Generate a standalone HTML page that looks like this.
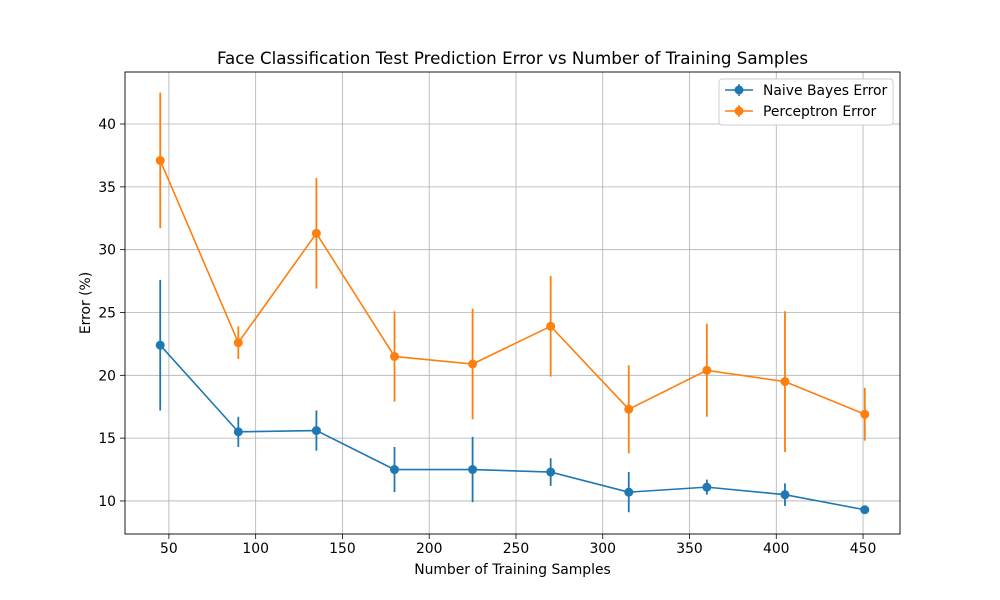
<!DOCTYPE html>
<html><head><meta charset="utf-8"><style>
body{margin:0;background:#fff;}
svg{display:block;font-family:"DejaVu Sans","Liberation Sans",sans-serif;}
</style></head><body>
<svg id="chart" width="1000" height="600"></svg>
<script>
const xs=[45,90,135,180,225,270,315,360,405,451];
const nbErr=[22.4,15.5,15.6,12.5,12.5,12.3,10.7,11.1,10.5,9.3];
const nbStd=[5.2,1.2,1.6,1.8,2.6,1.1,1.6,0.6,0.9,0.0];
const pcErr=[37.1,22.6,31.3,21.5,20.9,23.9,17.3,20.4,19.5,16.9];
const pcStd=[5.4,1.3,4.4,3.6,4.4,4.0,3.5,3.7,5.6,2.1];
const xTicks=[50,100,150,200,250,300,350,400,450];
const yTicks=[10,15,20,25,30,35,40];
const L=125,R=900,T=72,B=534;
const xMin=24.7,xMax=471.3,yMin=7.37,yMax=44.14;
const X=v=>L+(v-xMin)/(xMax-xMin)*(R-L);
const Y=v=>B-(v-yMin)/(yMax-yMin)*(B-T);
const svg=document.getElementById('chart');
const NS='http://www.w3.org/2000/svg';
function mk(tag,attrs,parent){const e=document.createElementNS(NS,tag);for(const k in attrs)e.setAttribute(k,attrs[k]);(parent||svg).appendChild(e);return e;}
const grid=mk('g',{});


xTicks.forEach(t=>{
 mk('line',{x1:X(t),x2:X(t),y1:T,y2:B,stroke:'#b0b0b0','stroke-width':0.8},grid);
 mk('line',{x1:X(t),x2:X(t),y1:B,y2:B+5,stroke:'#000','stroke-width':0.8});
 const tx=mk('text',{x:X(t),y:B+19,'text-anchor':'middle','font-size':13.9});
 
 
 tx.textContent=t;
});
yTicks.forEach(t=>{
 mk('line',{x1:L,x2:R,y1:Y(t),y2:Y(t),stroke:'#b0b0b0','stroke-width':0.8},grid);
 mk('line',{x1:L-5,x2:L,y1:Y(t),y2:Y(t),stroke:'#000','stroke-width':0.8});
 const tx=mk('text',{x:L-9,y:Y(t)+5,'text-anchor':'end','font-size':13.9});
 
 
 tx.textContent=t;
});
function series(err,std,color,name){
 const g=mk('g',{});
 
 
 xs.forEach((x,i)=>{mk('line',{x1:X(x),x2:X(x),y1:Y(err[i]-std[i]),y2:Y(err[i]+std[i]),stroke:color,'stroke-width':1.8},g);});
 mk('polyline',{points:xs.map((x,i)=>X(x)+','+Y(err[i])).join(' '),fill:'none',stroke:color,'stroke-width':1.6},g);
 xs.forEach((x,i)=>{const c=mk('circle',{cx:X(x),cy:Y(err[i]),r:4.5,fill:color},g);
  
  });
}
series(nbErr,nbStd,'#1f77b4','naive-bayes-series');
series(pcErr,pcStd,'#ff7f0e','perceptron-series');
mk('rect',{x:L,y:T,width:R-L,height:B-T,fill:'none',stroke:'#000','stroke-width':0.9});
const title=mk('text',{x:(L+R)/2,y:64,'text-anchor':'middle','font-size':16.7});


title.textContent='Face Classification Test Prediction Error vs Number of Training Samples';
const xl=mk('text',{x:(L+R)/2,y:574,'text-anchor':'middle','font-size':13.9});


xl.textContent='Number of Training Samples';
const yl=mk('text',{x:90,y:(T+B)/2,'text-anchor':'middle','font-size':13.9,transform:'rotate(-90 90 '+(T+B)/2+')'});


yl.textContent='Error (%)';
const lg=mk('g',{});


mk('rect',{x:719,y:79,width:174,height:46,fill:'#fff',stroke:'#ccc',rx:3},lg);
[['Naive Bayes Error','#1f77b4',95],['Perceptron Error','#ff7f0e',116]].forEach(([t,c,y])=>{
 mk('line',{x1:725,x2:753,y1:y-5,y2:y-5,stroke:c,'stroke-width':1.6},lg);
 mk('line',{x1:739,x2:739,y1:y-11,y2:y+1,stroke:c,'stroke-width':1.6},lg);
 mk('circle',{cx:739,cy:y-5,r:4.5,fill:c},lg);
 const tx=mk('text',{x:763,y:y,'font-size':13.9},lg);
 
 
 tx.textContent=t;
});
</script>
</body></html>
